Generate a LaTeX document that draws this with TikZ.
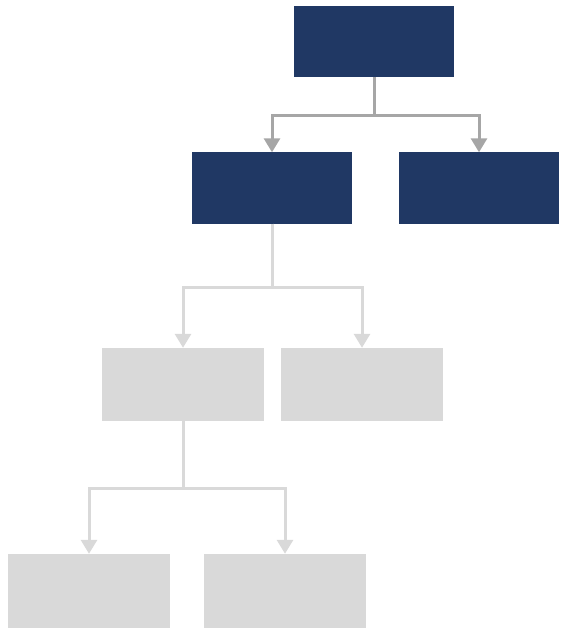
\documentclass[tikz,border=0pt]{standalone}
\usetikzlibrary{positioning, arrows.meta, calc}

\definecolor{navy}{HTML}{203864}
\definecolor{darkline}{HTML}{A6A6A6}
\definecolor{lightbox}{HTML}{D9D9D9}

\tikzset{
  box/.style={rectangle, inner sep=0pt, minimum width=160pt, minimum height=71pt},
  topbox/.style={box, fill=navy},
  greybox/.style={box, fill=lightbox, minimum width=162pt, minimum height=73pt},
  link/.style={line width=3pt, -{Triangle[width=16pt,length=14pt]}},
}

\begin{document}
\begin{tikzpicture}[x=1pt, y=-1pt]
        \useasboundingbox (0,0) rectangle (562,628);

        \node[topbox]  (root) at (374,41.5)  {};
        \node[topbox]  (a)    at (272,188)   {};
        \node[topbox]  (b)    at (479,188)   {};

        \node[greybox] (aa)   at (183,384.5) {};
        \node[greybox] (ab)   at (362,384.5) {};

        \node[greybox, minimum height=74pt] (aaa) at (89,591)  {};
        \node[greybox, minimum height=74pt] (aab) at (285,591) {};

        \draw[link, darkline] (root.south) -- ++(0,38) -| (a.north);
        \draw[link, darkline] (root.south) -- ++(0,38) -| (b.north);

        \draw[link, lightbox] (a.south) -- ++(0,64) -| (aa.north);
        \draw[link, lightbox] (a.south) -- ++(0,64) -| (ab.north);

        \draw[link, lightbox] (aa.south) -- ++(0,67) -| (aaa.north);
        \draw[link, lightbox] (aa.south) -- ++(0,67) -| (aab.north);

      \end{tikzpicture}
\end{document}
